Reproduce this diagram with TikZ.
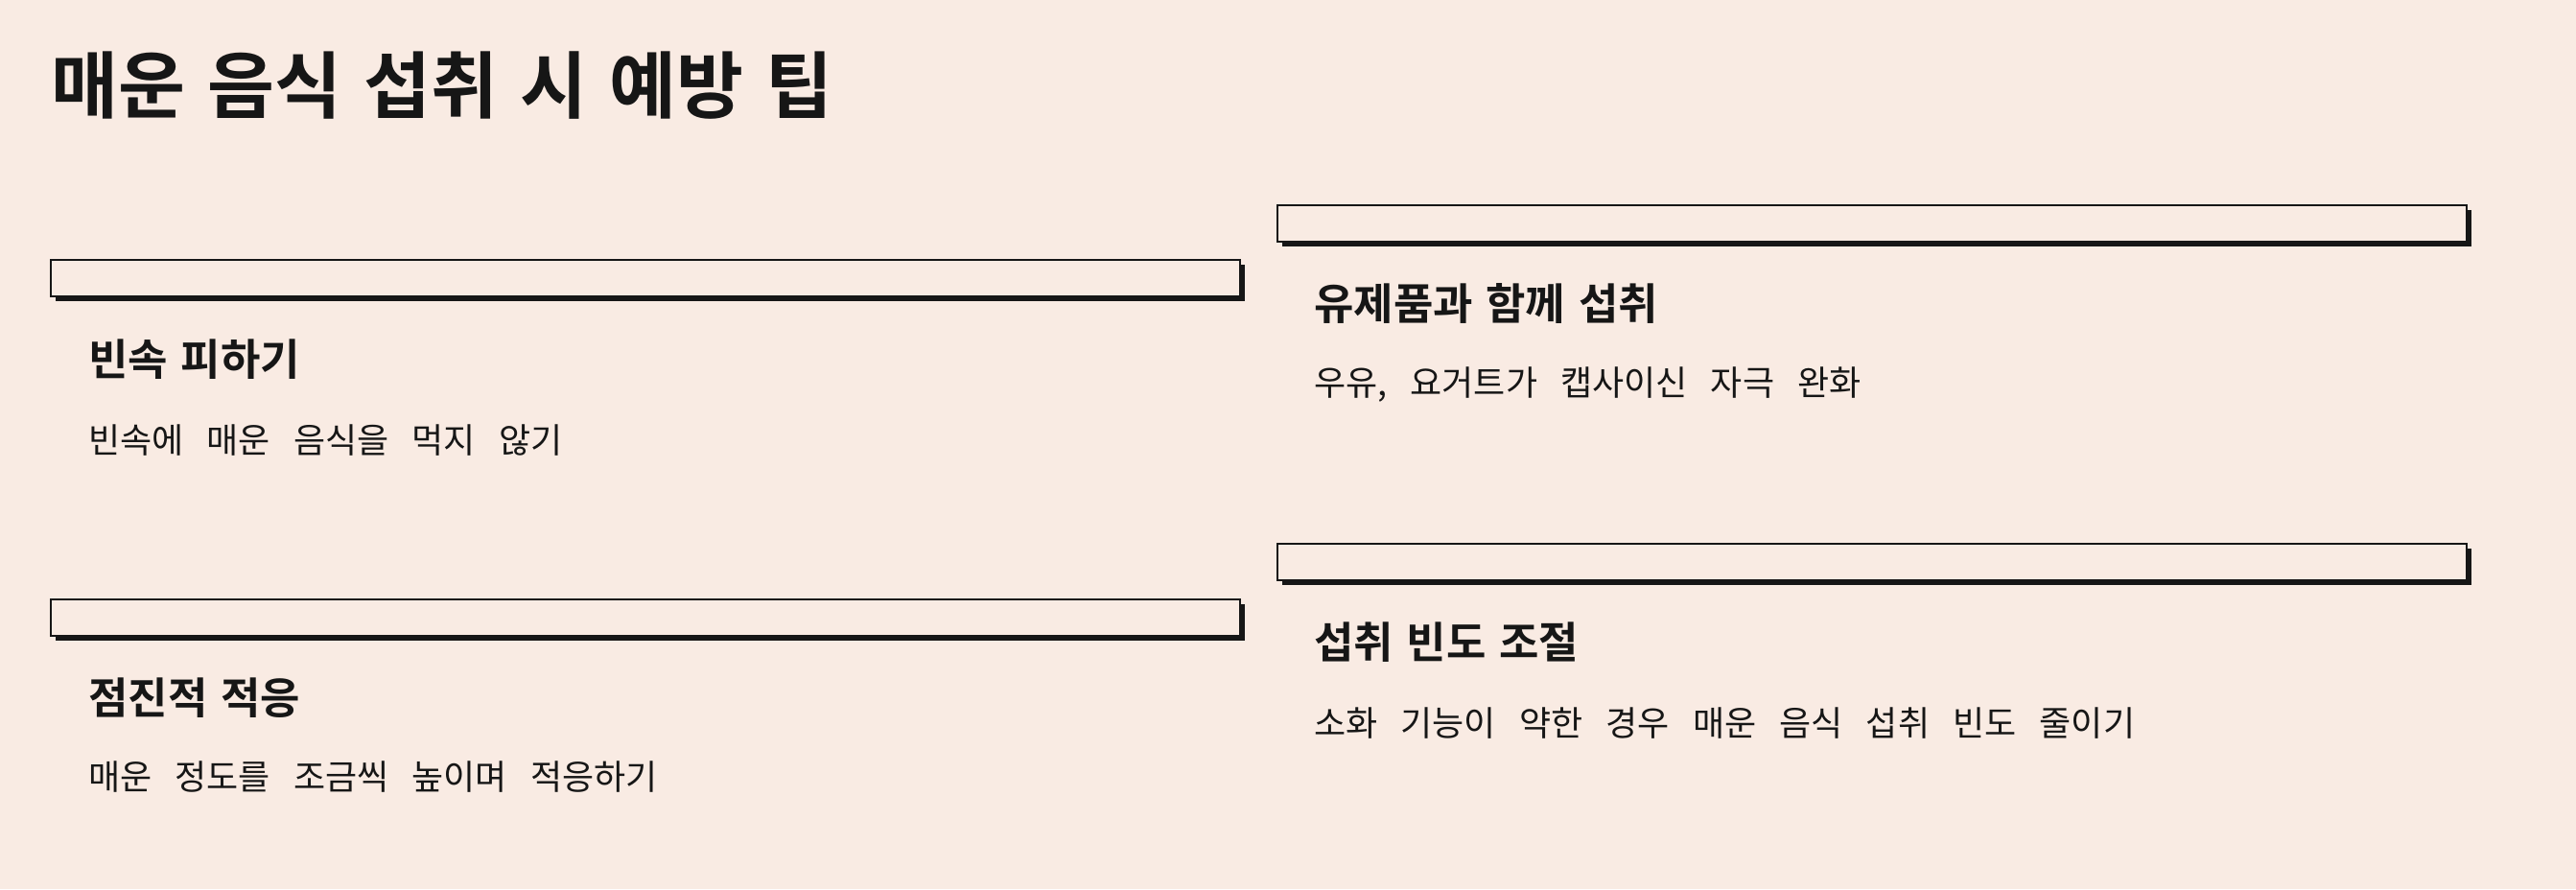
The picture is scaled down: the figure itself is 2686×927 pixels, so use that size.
\documentclass[tikz,border=0pt]{standalone}
\usepackage{fontspec}
\newfontfamily\kr[WordSpace=3]{Noto Sans CJK KR}
\newfontfamily\krb[WordSpace=4]{Noto Sans CJK KR Bold}
\newfontfamily\krm[WordSpace=1.35]{Noto Sans CJK KR Bold}
\definecolor{bg}{HTML}{F9EBE3}
\definecolor{ink}{HTML}{161616}
\begin{document}
\begin{tikzpicture}[x=1pt,y=-1pt,
  bar/.style={draw=ink,line width=2.5pt,fill=bg},
  shadow/.style={fill=ink},
  ttl/.style={anchor=west,inner sep=0,text=ink,font=\krb\fontsize{45}{50}\selectfont},
  dsc/.style={anchor=west,inner sep=0,text=ink,font=\kr\fontsize{36}{42}\selectfont}]
\fill[bg] (0,0) rectangle (2686,927);
\node[anchor=west,inner sep=0,text=ink,font=\krm\fontsize{76}{86}\selectfont] (main) at (53,89) {매운 음식 섭취 시 예방 팁};
% bars
\foreach \n/\x/\y in {b1/53/271, b2/1332/214, b3/53/625, b4/1332/567}{
  \fill[shadow] (\x+5,\y+5) rectangle (\x+1240+5,\y+38+5);
  \draw[bar] (\x,\y) rectangle (\x+1240,\y+38);
}
\node[ttl] (t1) at (92,375) {빈속 피하기};
\node[dsc] (d1) at (92,459) {빈속에 매운 음식을 먹지 않기};
\node[ttl] (t2) at (1370,317) {유제품과 함께 섭취};
\node[dsc] (d2) at (1370,401) {우유, 요거트가 캡사이신 자극 완화};
\node[ttl] (t3) at (92,728) {점진적 적응};
\node[dsc] (d3) at (92,810) {매운 정도를 조금씩 높이며 적응하기};
\node[ttl] (t4) at (1370,670) {섭취 빈도 조절};
\node[dsc] (d4) at (1370,754) {소화 기능이 약한 경우 매운 음식 섭취 빈도 줄이기};
\end{tikzpicture}
\end{document}
